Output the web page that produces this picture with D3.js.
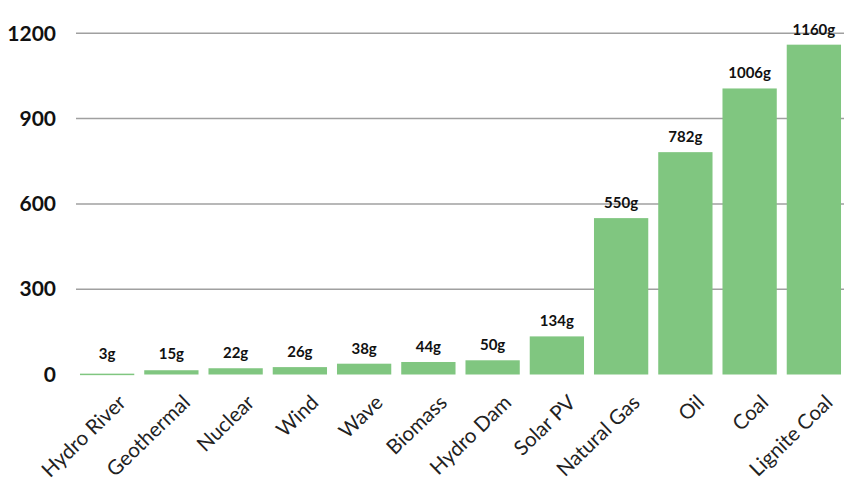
<!DOCTYPE html>
<html>
<head>
<meta charset="utf-8">
<script src="https://cdn.jsdelivr.net/npm/d3@7"></script>
<style>
  body { margin: 0; background: #fff; }
  svg { display: block; }
</style>
</head>
<body>
<div id="chart"></div>
<script>
// data (grams of CO2 per kWh)
var categories = ["Hydro River", "Geothermal", "Nuclear", "Wind", "Wave", "Biomass",
                  "Hydro Dam", "Solar PV", "Natural Gas", "Oil", "Coal", "Lignite Coal"];
var values = [3, 15, 22, 26, 38, 44, 50, 134, 550, 782, 1006, 1160];
var yTicks = [0, 300, 600, 900, 1200];

var width = 844, height = 487;

var svg = d3.select("#chart")
  .append("svg")
    .attr("width", width)
    .attr("height", height);

var x = d3.scaleBand()
  .domain(categories)
  .range([75, 846])
  .paddingInner(0.155)
  .paddingOuter(0.0775);

var y = d3.scaleLinear()
  .domain([0, 1200])
  .range([374.5, 33.3]);

// gridlines (no line at zero)
svg.append("g")
  .selectAll("line")
  .data(yTicks.filter(function(d) { return d > 0; }))
  .enter()
  .append("line")
    .attr("x1", 76)
    .attr("x2", width)
    .attr("y1", function(d) { return y(d); })
    .attr("y2", function(d) { return y(d); })
    .attr("stroke", "#a0a0a0")
    .attr("stroke-width", 1.5);

// y axis labels
var yAxis = svg.append("g")
  .attr("transform", "translate(56,0)")
  .call(d3.axisLeft(y).tickValues(yTicks).tickFormat(d3.format("d")).tickSize(0).tickPadding(0));
yAxis.select(".domain").remove();
yAxis.selectAll("text")
  .attr("font-family", "Lato, 'Open Sans', sans-serif")
  .attr("font-weight", "bold")
  .attr("font-size", 21)
  .attr("fill", "#111");

// bars
var data = categories.map(function(c, i) { return {cat: c, val: values[i]}; });

svg.append("g")
  .selectAll("rect")
  .data(data)
  .enter()
  .append("rect")
    .attr("x", function(d) { return x(d.cat); })
    .attr("width", x.bandwidth())
    .attr("y", function(d) { return y(d.val); })
    .attr("height", function(d) { return Math.max(1.5, y(0) - y(d.val)); })
    .attr("fill", "#80c680");

// value labels
svg.append("g")
  .selectAll("text")
  .data(data)
  .enter()
  .append("text")
    .attr("x", function(d) { return x(d.cat) + x.bandwidth() / 2; })
    .attr("y", function(d) { return Math.min(359, y(d.val) - 10); })
    .attr("text-anchor", "middle")
    .attr("font-family", "Lato, 'Open Sans', sans-serif")
    .attr("font-weight", "bold")
    .attr("font-size", 15)
    .attr("fill", "#111")
    .text(function(d) { return d.val + "g"; });

// category labels, rotated
svg.append("g")
  .selectAll("text")
  .data(categories)
  .enter()
  .append("text")
    .attr("transform", function(d) {
      return "translate(" + (x(d) + x.bandwidth() / 2 + 20) + ",404) rotate(-44)";
    })
    .attr("text-anchor", "end")
    .attr("font-family", "Lato, 'Open Sans', sans-serif")
    .attr("font-size", 20.5)
    .attr("fill", "#222")
    .text(function(d) { return d; });
</script>
</body>
</html>
